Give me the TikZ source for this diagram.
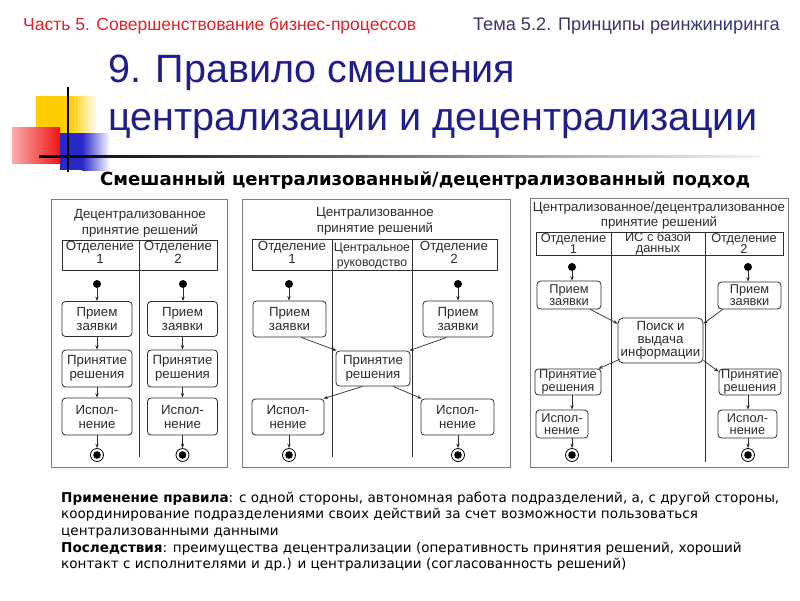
\documentclass[tikz,border=0pt]{standalone}
\usepackage{fontspec}
\setmainfont{Liberation Sans}
\newfontfamily\dvs{DejaVu Sans}
\usetikzlibrary{arrows.meta,calc}
\definecolor{hdred}{RGB}{228,32,40}
\definecolor{hdblue}{RGB}{55,55,110}
\definecolor{ttl}{RGB}{30,30,140}
\definecolor{pan}{RGB}{125,125,125}
\definecolor{ink}{RGB}{45,45,45}
\definecolor{yel}{RGB}{255,204,0}
\definecolor{rd}{RGB}{240,20,20}
\definecolor{bl}{RGB}{40,40,200}
\newlength\fitlen
\newcommand\fitfont[3]{\settowidth\fitlen{#2\fontsize{10}{12}\selectfont #3}\pgfmathsetmacro\fitsz{10*#1/\fitlen}}
\AtBeginDocument{%
\fitfont{718}{\dvs}{\textbf{Применение правила}: с одной стороны, автономная работа подразделений, а, с другой стороны,}%
\global\let\bodysz\fitsz
\fitfont{650}{\dvs\bfseries}{Смешанный централизованный/децентрализованный подход}%
\global\let\subsz\fitsz}
\tikzset{
  panel/.style={draw=pan, line width=0.9pt},
  hdr/.style={draw=ink, line width=0.8pt},
  lane/.style={draw=ink, line width=0.8pt},
  ptxt/.style={align=center, inner sep=0pt, text=ink, font=\fontsize{13.3}{16}\selectfont},
  htxt/.style={align=center, inner sep=0pt, text=ink, font=\fontsize{13.3}{10.8}\selectfont},
  htxtt/.style={align=center, inner sep=0pt, text=ink, font=\fontsize{12.8}{11.8}\selectfont},
  act/.style={draw=ink, line width=0.8pt, rounded corners=3.5pt, align=center, inner sep=0pt, text=ink, font=\fontsize{13.3}{14}\selectfont},
  actt/.style={act, font=\fontsize{12.8}{12.2}\selectfont},
  startdot/.style={circle, fill=black, minimum size=8pt, inner sep=0pt},
  enddot/.style={circle, draw=black, line width=0.8pt, fill=white, minimum size=13pt, inner sep=0pt,
    path picture={\fill[black] (path picture bounding box.center) circle (3.8pt);}},
  conn/.style={draw=ink, line width=0.7pt, -{Stealth[length=4.5pt,width=3.4pt]}},
  btxt/.style={anchor=base west, inner sep=0pt, text=black, font=\dvs\fontsize{\bodysz}{17}\selectfont}
}
\begin{document}
\begin{tikzpicture}[x=1pt,y=-1pt]
\useasboundingbox (0,0) rectangle (800,600);
\fill[white] (0,0) rectangle (800,600);
% header
\node[anchor=base west, inner sep=0pt, text=hdred, font=\fontsize{17.5}{20}\selectfont] (hl) at (23,30) {Часть 5. Совершенствование бизнес-процессов};
\node[anchor=base east, inner sep=0pt, text=hdblue, font=\fontsize{18.2}{20}\selectfont] (hr) at (780,30) {Тема 5.2. Принципы реинжиниринга};
% decoration
\fill[yel] (36,96) rectangle (70,133);
\shade[left color=yel, right color=white] (70,96) rectangle (97,133);
\shade[left color=rd!35!white, right color=rd] (12,127) rectangle (60,163);
\fill[bl] (60,133) rectangle (82,170);
\shade[left color=bl, right color=white] (82,133) rectangle (110,170);
\draw[line width=1.6pt] (68,87) -- (68,172);
\shade[left color=black, middle color=black!60, right color=black!5] (39,155) rectangle (760,157.5);
% title
\node[anchor=base west, inner sep=0pt, text=ttl, font=\fontsize{39.5}{48}\selectfont] (t1) at (108,82) {9. Правило смешения};
\node[anchor=base west, inner sep=0pt, text=ttl, font=\fontsize{39.5}{48}\selectfont] (t2) at (108,130) {централизации и децентрализации};
\node[anchor=base west, inner sep=0pt, font=\dvs\bfseries\fontsize{\subsz}{20}\selectfont] (st) at (100,185) {Смешанный централизованный/децентрализованный подход};
% ---------- panel 1
\draw[panel] (51,199) rectangle (227,467);
\node[ptxt] (p1t) at (140,223.5) {Децентрализованное\\принятие решений};
\draw[hdr] (62,240) rectangle (217,270);
\draw[lane] (139,240) -- (139,457);
\node[htxt] (p1h1) at (100,252.5) {Отделение\\1};
\node[htxt] (p1h2) at (178,252.5) {Отделение\\2};
\node[startdot] (p1d1) at (97,284) {};
\node[startdot] (p1d2) at (183,284) {};
\node[act, minimum width=70pt, minimum height=35pt] (p1a1) at (97,319) {Прием\\заявки};
\node[act, minimum width=70pt, minimum height=35pt] (p1a2) at (182.5,319) {Прием\\заявки};
\node[act, minimum width=70pt, minimum height=37pt] (p1b1) at (97,368.5) {Принятие\\решения};
\node[act, minimum width=70pt, minimum height=37pt] (p1b2) at (182.5,368.5) {Принятие\\решения};
\node[act, minimum width=70pt, minimum height=37pt] (p1c1) at (97,416.5) {Испол-\\нение};
\node[act, minimum width=70pt, minimum height=37pt] (p1c2) at (182.5,416.5) {Испол-\\нение};
\node[enddot] (p1e1) at (97,455) {};
\node[enddot] (p1e2) at (182.5,455) {};
\draw[conn] (p1d1) -- (p1a1);
\draw[conn] (p1d2) -- (p1d2 |- p1a2.north);
\draw[conn] (p1a1) -- (p1b1);
\draw[conn] (p1a2) -- (p1b2);
\draw[conn] (p1b1) -- (p1c1);
\draw[conn] (p1b2) -- (p1c2);
\draw[conn] (p1c1) -- (p1e1);
\draw[conn] (p1c2) -- (p1e2);
% ---------- panel 2
\draw[panel] (242,199) rectangle (510,467);
\node[ptxt] (p2t) at (375,221.5) {Централизованное\\принятие решений};
\draw[hdr] (252,239) rectangle (497,270);
\draw[lane] (332,239) -- (332,457);
\draw[lane] (412,239) -- (412,457);
\node[htxt] (p2h1) at (292,252.5) {Отделение\\1};
\node[align=center, inner sep=0pt, text=ink, font=\fontsize{12.3}{14.5}\selectfont] (p2h2) at (372,256) {Центральное\\руководство};
\node[htxt] (p2h3) at (454,252.5) {Отделение\\2};
\node[startdot] (p2d1) at (289,284) {};
\node[startdot] (p2d2) at (458,284) {};
\node[act, minimum width=73pt, minimum height=36pt] (p2a1) at (289.5,319) {Прием\\заявки};
\node[act, minimum width=70pt, minimum height=36pt] (p2a2) at (458,319) {Прием\\заявки};
\node[act, minimum width=74pt, minimum height=35pt] (p2c) at (373,368.5) {Принятие\\решения};
\node[act, minimum width=72pt, minimum height=36pt] (p2b1) at (288,417) {Испол-\\нение};
\node[act, minimum width=73pt, minimum height=36pt] (p2b2) at (457.5,417) {Испол-\\нение};
\node[enddot] (p2e1) at (289,455) {};
\node[enddot] (p2e2) at (458,455) {};
\draw[conn] (p2d1) -- (p2d1 |- p2a1.north);
\draw[conn] (p2d2) -- (p2a2);
\draw[conn] ($(p2a1.south west)!0.66!(p2a1.south east)$) -- ($(p2c.north west)+(1,0)$);
\draw[conn] ($(p2a2.south west)!0.34!(p2a2.south east)$) -- ($(p2c.north east)+(-1,0)$);
\draw[conn] ($(p2c.south west)!0.36!(p2c.south east)$) -- ($(p2b1.north east)+(-1,0)$);
\draw[conn] ($(p2c.south west)!0.77!(p2c.south east)$) -- ($(p2b2.north west)+(1,0)$);
\draw[conn] (p2b1.south -| p2e1) -- (p2e1);
\draw[conn] (p2b2.south -| p2e2) -- (p2e2);
% ---------- panel 3
\draw[panel] (530,198) rectangle (788,467);
\node[ptxt, font=\fontsize{13.3}{15}\selectfont] (p3t) at (659,215.5) {Централизованное/децентрализованное\\принятие решений};
\draw[hdr] (536,232) rectangle (783,255);
\draw[lane] (611,232) -- (611,462);
\draw[lane] (705,232) -- (705,462);
\node[htxtt] (p3h1) at (573.5,243.5) {Отделение\\1};
\node[htxtt] (p3h2) at (658,243.5) {ИС с базой\\данных};
\node[htxtt] (p3h3) at (744,243.5) {Отделение\\2};
\node[startdot] (p3d1) at (572,267) {};
\node[startdot] (p3d2) at (748,267) {};
\node[actt, minimum width=64pt, minimum height=28pt] (p3a1) at (569,295) {Прием\\заявки};
\node[actt, minimum width=63pt, minimum height=27pt] (p3a2) at (749.5,295.5) {Прием\\заявки};
\node[act, rounded corners=5pt, font=\fontsize{13.3}{13}\selectfont, minimum width=85pt, minimum height=45pt] (p3s) at (660.5,340.5) {Поиск и\\выдача\\информации};
\node[actt, minimum width=66pt, minimum height=26pt] (p3b1) at (568,382) {Принятие\\решения};
\node[actt, minimum width=62pt, minimum height=26pt] (p3b2) at (750,382) {Принятие\\решения};
\node[actt, minimum width=52pt, minimum height=28pt] (p3c1) at (562,424) {Испол-\\нение};
\node[actt, minimum width=59pt, minimum height=28pt] (p3c2) at (747.5,424) {Испол-\\нение};
\node[enddot] (p3e1) at (572,455) {};
\node[enddot] (p3e2) at (748,455) {};
\draw[conn] (p3d1) -- (p3d1 |- p3a1.north);
\draw[conn] (p3d2) -- (p3d2 |- p3a2.north);
\draw[conn] ($(p3a1.south west)!0.83!(p3a1.south east)$) -- ($(p3s.north west)+(0,6)$);
\draw[conn] ($(p3a2.south west)!0.08!(p3a2.south east)$) -- ($(p3s.north east)+(0,6)$);
\draw[conn] ($(p3s.south west)+(2,-4)$) -- ($(p3b1.north east)+(-3,0)$);
\draw[conn] ($(p3s.south east)+(0,-3)$) -- ($(p3b2.north west)+(0,3)$);
\draw[conn] (p3b1.south -| p3d1) -- (p3c1.north -| p3d1);
\draw[conn] (p3b2.south -| p3d2) -- (p3c2.north -| p3d2);
\draw[conn] (p3c1.south -| p3e1) -- (p3e1);
\draw[conn] (p3c2.south -| p3e2) -- (p3e2);
% ---------- bottom text
\node[btxt] (b1) at (61,502) {\textbf{Применение правила}: с одной стороны, автономная работа подразделений, а, с другой стороны,};
\node[btxt] (b2) at (61,518.7) {координирование подразделениями своих действий за счет возможности пользоваться};
\node[btxt] (b3) at (61,535.4) {централизованными данными};
\node[btxt] (b4) at (61,552.1) {\textbf{Последствия}: преимущества децентрализации (оперативность принятия решений, хороший};
\node[btxt] (b5) at (61,568.8) {контакт с исполнителями и др.) и централизации (согласованность решений)};
\end{tikzpicture}
\end{document}
